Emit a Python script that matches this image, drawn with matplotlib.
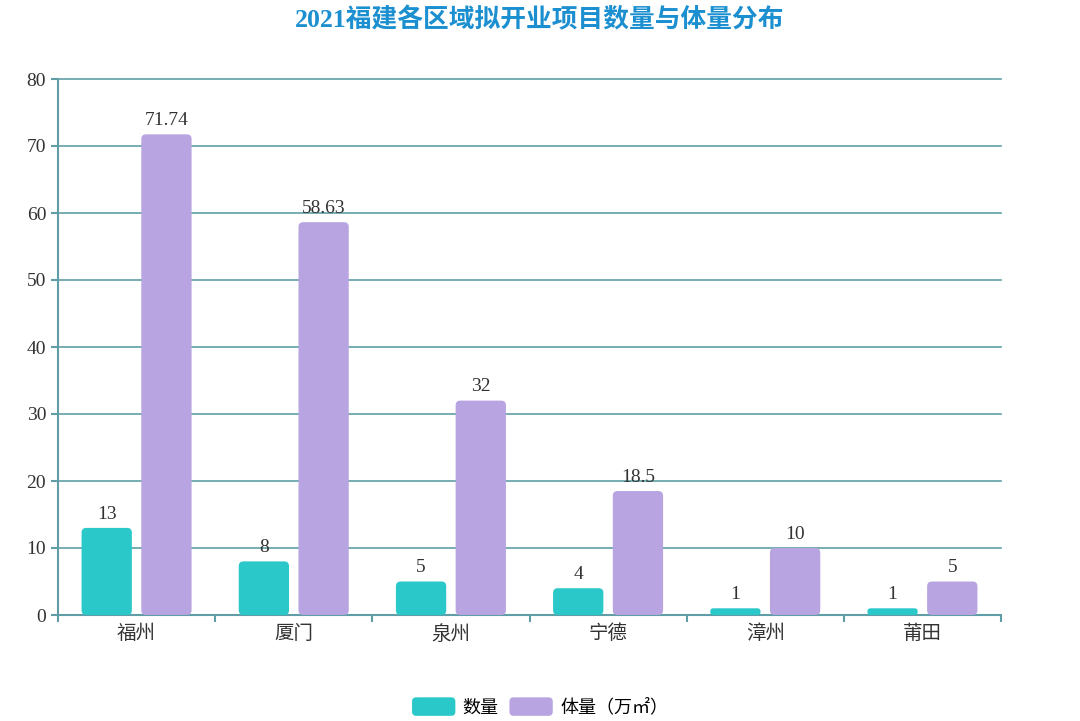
import numpy as np
import matplotlib
matplotlib.use("Agg")
import matplotlib.pyplot as plt
from matplotlib.patches import FancyBboxPatch, Patch
from matplotlib.legend_handler import HandlerPatch

plt.rcParams['font.family'] = ['Liberation Serif', 'Noto Sans CJK SC', 'DejaVu Sans']

# 数据
regions = ['福州', '厦门', '泉州', '宁德', '漳州', '莆田']
count = [13, 8, 5, 4, 1, 1]
volume = [71.74, 58.63, 32, 18.5, 10, 5]
count_labels = ['13', '8', '5', '4', '1', '1']
volume_labels = ['71.74', '58.63', '32', '18.5', '10', '5']

c_count = '#2bc8ca'
c_vol = '#b7a4e0'
c_axis = '#5f9ea6'

fig = plt.figure(figsize=(10.8, 7.21), dpi=100)
ax = fig.add_axes([58 / 1080, 1 - 615 / 721, (1001 - 58) / 1080, (615 - 79) / 721])

x = np.arange(len(regions))
w = 0.32
off = 0.19
ax.set_xlim(-0.5, len(regions) - 0.5)
ax.set_ylim(0, 80)

# 圆角柱子
aspect = (80 / 536) / (6 / 943)
def rounded_bars(xs, vals, color):
    for xi, v in zip(xs, vals):
        r = min(0.03, v / aspect / 2 * 0.95)
        p = FancyBboxPatch((xi - w / 2, 0), w, v,
                           boxstyle="round,pad=0,rounding_size=%f" % r,
                           mutation_aspect=aspect, fc=color, ec='none', zorder=3)
        ax.add_patch(p)

rounded_bars(x - off, count, c_count)
rounded_bars(x + off, volume, c_vol)

for xi, v, t in zip(x - off, count, count_labels):
    ax.text(xi, v + 0.8, t, ha='center', va='bottom', fontsize=14, color='#333333')
for xi, v, t in zip(x + off, volume, volume_labels):
    ax.text(xi, v + 0.8, t, ha='center', va='bottom', fontsize=14, color='#333333')

# 坐标轴与网格
ax.set_yticks(np.arange(0, 81, 10))
ax.yaxis.grid(True, color=c_axis, linewidth=1.2, zorder=0)
for gl in ax.get_ygridlines():
    gl.set_clip_on(False)
ax.set_axisbelow(True)
for s in ['top', 'right']:
    ax.spines[s].set_visible(False)
for s in ['left', 'bottom']:
    ax.spines[s].set_color(c_axis)
    ax.spines[s].set_linewidth(1.5)
ax.tick_params(axis='y', colors=c_axis, labelcolor='#333333', labelsize=14, length=5, width=1.5)
ax.set_xticks(x)
ax.set_xticklabels(regions, fontsize=14, color='#333333')
ax.tick_params(axis='x', length=0, pad=7)
ax.set_xticks(np.arange(-0.5, len(regions), 1), minor=True)
ax.tick_params(axis='x', which='minor', colors=c_axis, length=5, width=1.5)

fig.text(0.5, 0.973, '2021福建各区域拟开业项目数量与体量分布', ha='center', va='center',
         fontsize=18.5, fontweight='bold', color='#1b8fd0')


class RoundHandler(HandlerPatch):
    def create_artists(self, legend, orig_handle, xdescent, ydescent, width, height, fontsize, trans):
        p = FancyBboxPatch((-xdescent, -ydescent), width, height,
                           boxstyle="round,pad=0,rounding_size=3",
                           fc=orig_handle.get_facecolor(), ec='none', transform=trans)
        return [p]


handles = [Patch(fc=c_count, ec='none', label='数量'),
           Patch(fc=c_vol, ec='none', label='体量（万㎡）')]
fig.legend(handles=handles, loc='center', bbox_to_anchor=(0.5, 1 - 707 / 721), ncol=2,
           frameon=False, fontsize=13, handlelength=2.4, handleheight=1.2,
           handletextpad=0.4, columnspacing=0.6,
           handler_map={Patch: RoundHandler()})

fig.savefig('out.png', dpi=100)
